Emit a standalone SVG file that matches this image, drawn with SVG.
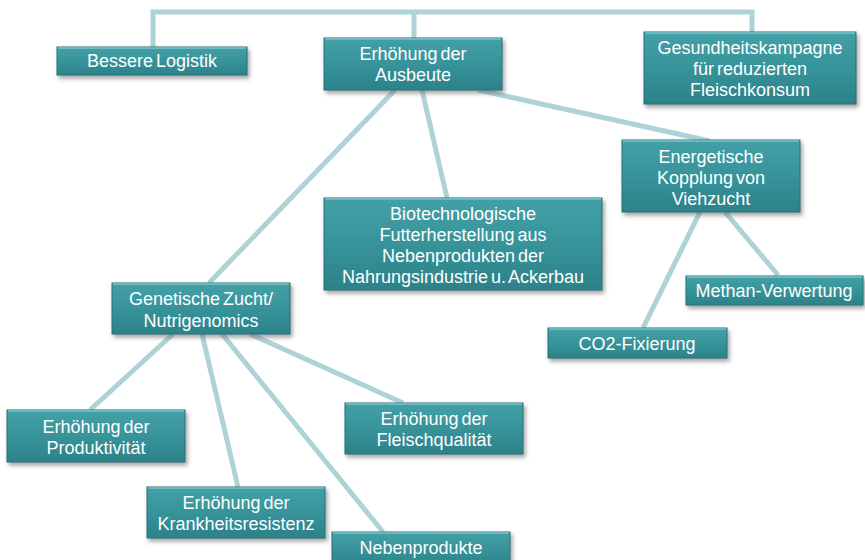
<svg xmlns="http://www.w3.org/2000/svg" width="865" height="560" viewBox="0 0 865 560">
<defs>
<linearGradient id="g" x1="0" y1="0" x2="0" y2="1">
<stop offset="0" stop-color="#44a0a7"/>
<stop offset="0.5" stop-color="#37939a"/>
<stop offset="1" stop-color="#2c8289"/>
</linearGradient>
<filter id="sh" x="-10%" y="-20%" width="125%" height="150%">
<feDropShadow dx="2" dy="3" stdDeviation="2" flood-color="#555" flood-opacity="0.55"/>
</filter>
</defs>
<style>
.box{fill:url(#g);stroke:#25727a;stroke-width:1;filter:url(#sh)}
.hl{stroke:#7cc3c8;stroke-width:1.5;fill:none}
.t{font-family:"Liberation Sans",Arial,sans-serif;font-size:18px;fill:#fff;text-anchor:middle;word-spacing:-2px}
.c{stroke:#aed3d6;stroke-width:5;fill:none;stroke-linecap:butt}
</style>
<rect width="865" height="560" fill="#fff"/>
<g id="connectors">
<path class="c" d="M153,47 V12 H752 V33"/>
<path class="c" d="M414,12 V38"/>
<line class="c" x1="395" y1="90" x2="209" y2="283"/>
<line class="c" x1="422" y1="90" x2="447" y2="198"/>
<line class="c" x1="478" y1="90" x2="710" y2="141"/>
<line class="c" x1="700" y1="212" x2="643" y2="328"/>
<line class="c" x1="725" y1="212" x2="778" y2="275"/>
<line class="c" x1="173" y1="334" x2="90" y2="410"/>
<line class="c" x1="202" y1="334" x2="238" y2="487"/>
<line class="c" x1="222" y1="334" x2="383" y2="532"/>
<line class="c" x1="250" y1="334" x2="403" y2="403"/>
</g>
<g id="n1"><rect class="box" x="57" y="47" width="190" height="28"/><line class="hl" x1="58" y1="48" x2="246" y2="48"/><text class="t" x="152" y="67">Bessere Logistik</text></g>
<g id="n2"><rect class="box" x="324" y="38" width="178" height="52"/><line class="hl" x1="325" y1="39" x2="501" y2="39"/><text class="t" x="413" y="60">Erhöhung der</text><text class="t" x="413" y="81">Ausbeute</text></g>
<g id="n3"><rect class="box" x="644" y="32" width="212" height="72"/><line class="hl" x1="645" y1="33" x2="855" y2="33"/><text class="t" x="750" y="54">Gesundheitskampagne</text><text class="t" x="750" y="75">für reduzierten</text><text class="t" x="750" y="96">Fleischkonsum</text></g>
<g id="n4"><rect class="box" x="324" y="198" width="278" height="92"/><line class="hl" x1="325" y1="199" x2="601" y2="199"/><text class="t" x="463" y="220">Biotechnologische</text><text class="t" x="463" y="241">Futterherstellung aus</text><text class="t" x="463" y="262">Nebenprodukten der</text><text class="t" x="463" y="283">Nahrungsindustrie u. Ackerbau</text></g>
<g id="n5"><rect class="box" x="622" y="140" width="178" height="72"/><line class="hl" x1="623" y1="141" x2="799" y2="141"/><text class="t" x="711" y="163">Energetische</text><text class="t" x="711" y="184">Kopplung von</text><text class="t" x="711" y="205">Viehzucht</text></g>
<g id="n6"><rect class="box" x="686" y="276" width="177" height="29"/><line class="hl" x1="687" y1="277" x2="862" y2="277"/><text class="t" x="774" y="297">Methan-Verwertung</text></g>
<g id="n7"><rect class="box" x="548" y="328" width="179" height="30"/><line class="hl" x1="549" y1="329" x2="726" y2="329"/><text class="t" x="637" y="350">CO2-Fixierung</text></g>
<g id="n8"><rect class="box" x="112" y="283" width="178" height="51"/><line class="hl" x1="113" y1="284" x2="289" y2="284"/><text class="t" x="201" y="305">Genetische Zucht/</text><text class="t" x="201" y="327">Nutrigenomics</text></g>
<g id="n9"><rect class="box" x="7" y="410" width="178" height="52"/><line class="hl" x1="8" y1="411" x2="184" y2="411"/><text class="t" x="96" y="433">Erhöhung der</text><text class="t" x="96" y="454">Produktivität</text></g>
<g id="n10"><rect class="box" x="345" y="403" width="178" height="51"/><line class="hl" x1="346" y1="404" x2="522" y2="404"/><text class="t" x="434" y="425">Erhöhung der</text><text class="t" x="434" y="446">Fleischqualität</text></g>
<g id="n11"><rect class="box" x="147" y="487" width="178" height="51"/><line class="hl" x1="148" y1="488" x2="324" y2="488"/><text class="t" x="236" y="509">Erhöhung der</text><text class="t" x="236" y="530">Krankheitsresistenz</text></g>
<g id="n12"><rect class="box" x="332" y="532" width="178" height="34"/><line class="hl" x1="333" y1="533" x2="509" y2="533"/><text class="t" x="421" y="554">Nebenprodukte</text></g>
</svg>
